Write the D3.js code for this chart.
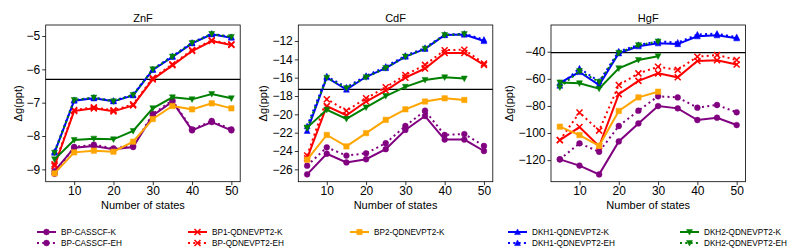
<!DOCTYPE html>
<html>
<head>
<meta charset="utf-8">
<script src="https://cdn.jsdelivr.net/npm/d3@7"></script>
<style>
  body { margin: 0; background: #fff; }
  text { font-family: "Liberation Sans", Arial, sans-serif; }
</style>
</head>
<body>
<div id="chart"></div>
<script>
(function() {

  var width = 793,
      height = 250

  // ---- data ----
  var states = [5, 10, 15, 20, 25, 30, 35, 40, 45, 50]

  var znfRef = -6.3
  var znfCasK   = [-9.05, -8.35, -8.3, -8.4, -8.33, -7.38, -6.97, -7.83, -7.58, -7.83]
  var znfCasEH  = [-9.13, -8.33, -8.26, -8.37, -8.3, -7.34, -6.93, -7.8, -7.55, -7.8]
  var znfBp1K   = [-8.9, -7.25, -7.17, -7.26, -7.08, -6.3, -5.88, -5.45, -5.15, -5.27]
  var znfBpEH   = [-8.85, -7.22, -7.14, -7.23, -7.05, -6.26, -5.85, -5.42, -5.13, -5.25]
  var znfBp2K   = [-9.12, -8.49, -8.44, -8.47, -8.17, -7.49, -7.1, -7.2, -7.02, -7.17]
  var znfDkh1K  = [-8.5, -6.94, -6.87, -6.96, -6.78, -6.02, -5.63, -5.22, -4.95, -5.05]
  var znfDkh1EH = [-8.47, -6.92, -6.85, -6.94, -6.76, -6.0, -5.6, -5.2, -4.93, -5.03]
  var znfDkh2K  = [-8.7, -8.12, -8.08, -8.1, -7.85, -7.17, -6.84, -6.9, -6.74, -6.87]
  var znfDkh2EH = [-8.5, -6.92, -6.85, -6.96, -6.77, -6.0, -5.62, -5.21, -4.94, -5.03]

  var cdfRef = -17.27
  var cdfCasK   = [-26.55, -24.3, -25.25, -24.9, -23.8, -21.7, -20.18, -22.75, -22.75, -24.0]
  var cdfCasEH  = [-25.6, -23.6, -24.5, -24.25, -23.15, -21.27, -19.6, -22.25, -22.15, -23.45]
  var cdfBp1K   = [-24.8, -19.1, -20.1, -18.6, -17.4, -16.0, -15.0, -13.3, -13.3, -14.6]
  var cdfBpEH   = [-24.5, -18.35, -19.6, -18.25, -17.05, -15.7, -14.6, -13.0, -12.95, -14.45]
  var cdfBp2K   = [-24.95, -22.25, -23.5, -22.05, -20.6, -19.45, -18.6, -18.25, -18.43]
  var cdfDkh1K  = [-21.8, -15.98, -17.3, -15.9, -14.95, -13.7, -12.85, -11.35, -11.3, -12.0]
  var cdfDkh1EH = [-21.3, -15.85, -17.05, -15.8, -14.8, -13.6, -12.75, -11.3, -11.2, -11.85]
  var cdfDkh2K  = [-21.45, -19.5, -20.5, -19.25, -18.0, -17.0, -16.25, -15.96, -16.1]
  var cdfDkh2EH = [-21.5, -16.0, -17.15, -15.95, -14.95, -13.7, -12.85, -11.35, -11.25]

  var hgfRef = -40.7
  var hgfCasK   = [-119.4, -124.0, -130.5, -106.2, -92.9, -80.1, -81.8, -90.4, -88.7, -94.1]
  var hgfCasEH  = [-119.4, -107.6, -113.8, -94.8, -83.5, -72.9, -73.7, -81.3, -79.3, -84.7]
  var hgfBp1K   = [-105.2, -95.6, -109.8, -71.3, -61.5, -56.0, -58.9, -46.8, -46.3, -49.5]
  var hgfBpEH   = [-105.3, -84.9, -98.2, -64.6, -56.0, -51.1, -53.4, -43.7, -42.4, -46.1]
  var hgfBp2K   = [-95.3, -101.5, -109.4, -83.7, -73.7, -69.5]
  var hgfDkh1K  = [-63.0, -55.0, -64.6, -41.2, -36.0, -33.8, -34.4, -28.6, -27.9, -30.1]
  var hgfDkh1EH = [-65.0, -52.3, -62.0, -39.8, -35.0, -32.4, -33.2, -27.3, -26.7, -29.3]
  var hgfDkh2K  = [-62.7, -63.3, -67.3, -52.3, -46.1, -43.4]
  var hgfDkh2EH = [-66.3, -54.3, -62.3, -40.8, -35.2, -32.5]

  var znfTicks = [-9, -8, -7, -6, -5]
  var cdfTicks = [-26, -24, -22, -20, -18, -16, -14, -12]
  var hgfTicks = [-120, -100, -80, -60, -40]
  var xTicks = [10, 20, 30, 40, 50]

  var seriesNames = ["BP-CASSCF-K", "BP-CASSCF-EH", "BP1-QDNEVPT2-K", "BP-QDNEVPT2-EH",
    "BP2-QDNEVPT2-K", "DKH1-QDNEVPT2-K", "DKH1-QDNEVPT2-EH", "DKH2-QDNEVPT2-K", "DKH2-QDNEVPT2-EH"]
  var seriesColors = ["#800080", "#800080", "#ff0000", "#ff0000", "#ffa500",
    "#0000ff", "#0000ff", "#008000", "#008000"]
  var seriesMarkers = ["circle", "circle", "x", "x", "square", "up", "up", "down", "down"]
  var seriesDotted = [false, true, false, true, false, false, true, false, true]

  var panels = [
    { title: "ZnF", ref: znfRef, ticks: znfTicks, yDomain: [-9.37, -4.67], left: 45.7,
      series: [znfCasK, znfCasEH, znfBp1K, znfBpEH, znfBp2K, znfDkh1K, znfDkh1EH, znfDkh2K, znfDkh2EH] },
    { title: "CdF", ref: cdfRef, ticks: cdfTicks, yDomain: [-27.35, -10.25], left: 298.3,
      series: [cdfCasK, cdfCasEH, cdfBp1K, cdfBpEH, cdfBp2K, cdfDkh1K, cdfDkh1EH, cdfDkh2K, cdfDkh2EH] },
    { title: "HgF", ref: hgfRef, ticks: hgfTicks, yDomain: [-135.9, -20.3], left: 551,
      series: [hgfCasK, hgfCasEH, hgfBp1K, hgfBpEH, hgfBp2K, hgfDkh1K, hgfDkh1EH, hgfDkh2K, hgfDkh2EH] }
  ]

  // ---- layout ----
  var panelW = 194.5,
      top = 25,
      bottom = 181.7

  var svg = d3.select("#chart")
    .append("svg")
    .attr("width", width)
    .attr("height", height)

  function markerPath(type, s) {
    if (type === "circle") return d3.symbol().type(d3.symbolCircle).size(Math.PI * s * s)()
    if (type === "square") return "M" + -s + "," + -s + "H" + s + "V" + s + "H" + -s + "Z"
    if (type === "up") return "M0," + (-s * 1.15) + "L" + (s * 1.1) + "," + (s * 0.95) + "L" + (-s * 1.1) + "," + (s * 0.95) + "Z"
    if (type === "down") return "M0," + (s * 1.15) + "L" + (s * 1.1) + "," + (-s * 0.95) + "L" + (-s * 1.1) + "," + (-s * 0.95) + "Z"
    return "M" + -s + "," + -s + "L" + s + "," + s + "M" + -s + "," + s + "L" + s + "," + -s
  }

  function drawMarker(g, type, color, x, y) {
    var isX = type === "x"
    g.append("path")
      .attr("transform", "translate(" + x + "," + y + ")")
      .attr("d", markerPath(type, isX ? 3 : (type === "circle" ? 2.9 : 2.7)))
      .attr("fill", isX ? "none" : color)
      .attr("stroke", color)
      .attr("stroke-width", isX ? 1.5 : 0.5)
  }

  panels.forEach(function(p) {
    var xScale = d3.scaleLinear().domain([2.75, 52.25]).range([p.left, p.left + panelW])
    var yScale = d3.scaleLinear().domain(p.yDomain).range([bottom, top])

    var g = svg.append("g")

    // axes
    var xAxis = g.append("g")
      .attr("transform", "translate(0," + bottom + ")")
      .call(d3.axisBottom(xScale).tickValues(xTicks).tickFormat(d3.format("d"))
        .tickSize(3.5).tickPadding(1.5).tickSizeOuter(0))
    var yAxis = g.append("g")
      .attr("transform", "translate(" + p.left + ",0)")
      .call(d3.axisLeft(yScale).tickValues(p.ticks).tickFormat(d3.format("d"))
        .tickSize(3.5).tickPadding(2).tickSizeOuter(0))
    ;[xAxis, yAxis].forEach(function(a) {
      a.select(".domain").remove()
      a.selectAll("line").attr("stroke", "#000").attr("stroke-width", 0.8)
      a.selectAll("text").attr("font-size", 12).attr("fill", "#000")
        .attr("font-family", "Liberation Sans, Arial, sans-serif")
    })

    // reference line
    g.append("line")
      .attr("x1", p.left).attr("x2", p.left + panelW)
      .attr("y1", yScale(p.ref)).attr("y2", yScale(p.ref))
      .attr("stroke", "#000").attr("stroke-width", 1.2)

    // series
    var line = d3.line()
      .x(function(d, i) { return xScale(states[i]) })
      .y(function(d) { return yScale(d) })

    p.series.forEach(function(values, si) {
      var color = seriesColors[si]
      g.append("path")
        .datum(values)
        .attr("d", line)
        .attr("fill", "none")
        .attr("stroke", color)
        .attr("stroke-width", 2)
        .attr("stroke-dasharray", seriesDotted[si] ? "2,3.3" : null)
      values.forEach(function(v, i) {
        drawMarker(g, seriesMarkers[si], color, xScale(states[i]), yScale(v))
      })
    })

    // frame
    g.append("rect")
      .attr("x", p.left).attr("y", top)
      .attr("width", panelW).attr("height", bottom - top)
      .attr("fill", "none").attr("stroke", "#000").attr("stroke-width", 0.8)

    // title and labels
    g.append("text")
      .attr("x", p.left + panelW / 2).attr("y", 22)
      .attr("text-anchor", "middle").attr("font-size", 11)
      .text(p.title)

    g.append("text")
      .attr("x", p.left + panelW / 2).attr("y", 208.5)
      .attr("text-anchor", "middle").attr("font-size", 11)
      .text("Number of states")

    var bb = yAxis.node().getBBox()
    var lx = p.left + bb.x - 5
    g.append("text")
      .attr("transform", "translate(" + lx + "," + ((top + bottom) / 2) + ") rotate(-90)")
      .attr("text-anchor", "middle").attr("font-size", 11)
      .text("Δg(ppt)")
  })

  // ---- legend ----
  var legendCols = [37, 188, 350, 508, 680]
  var legendRows = [232, 243]
  var legendSlots = [[0, 0], [0, 1], [1, 0], [1, 1], [2, 0], [3, 0], [3, 1], [4, 0], [4, 1]]

  var legend = svg.append("g")
  seriesNames.forEach(function(name, si) {
    var x0 = legendCols[legendSlots[si][0]],
        y0 = legendRows[legendSlots[si][1]],
        color = seriesColors[si]
    legend.append("line")
      .attr("x1", x0).attr("x2", x0 + 19)
      .attr("y1", y0).attr("y2", y0)
      .attr("stroke", color).attr("stroke-width", 2)
      .attr("stroke-dasharray", seriesDotted[si] ? "2,3.3" : null)
    drawMarker(legend, seriesMarkers[si], color, x0 + 9.5, y0)
    legend.append("text")
      .attr("x", x0 + 24).attr("y", y0 + 3)
      .attr("font-size", 8.2)
      .text(name)
  })
})()
</script>
</body>
</html>
